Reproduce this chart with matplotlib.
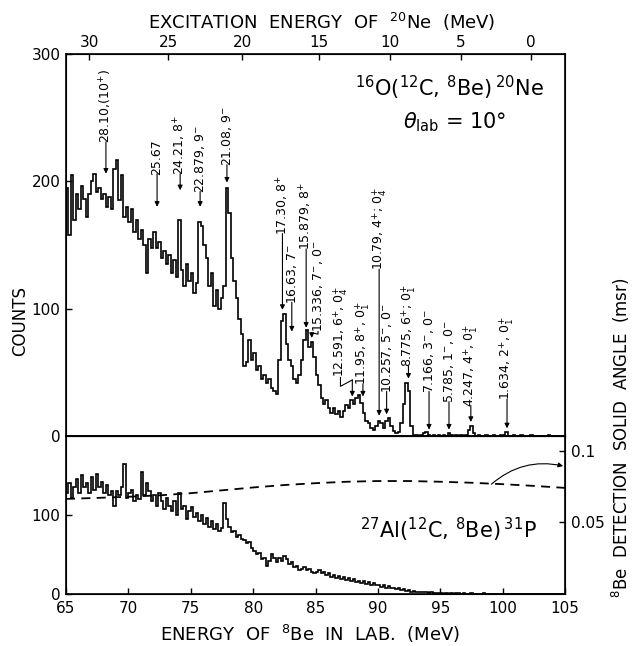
import numpy as np
import matplotlib.pyplot as plt

plt.rcParams['font.family'] = ['DejaVu Sans']
plt.rcParams['mathtext.fontset'] = 'dejavusans'

# channel edges of both spectra (lab energy of 8Be, MeV), 0.2 MeV channels
e_lo, e_hi, e_step = 65.0, 105.0, 0.2

# 16O(12C,8Be)20Ne counts, one row per 2 MeV
ne_counts = [
    195, 158, 205, 170, 190, 178, 196, 186, 172, 190,
    200, 206, 192, 195, 186, 190, 180, 188, 178, 210,
    217, 185, 205, 172, 180, 168, 178, 160, 170, 155,
    162, 150, 128, 155, 148, 160, 148, 152, 140, 145,
    135, 142, 128, 138, 125, 170, 130, 118, 135, 122,
    128, 112, 120, 168, 165, 150, 140, 118, 128, 102,
    115, 100, 108, 118, 195, 175, 140, 122, 108, 92,
    80, 55, 58, 75, 60, 65, 52, 55, 45, 48,
    42, 45, 38, 35, 33, 60, 90, 96, 72, 60,
    55, 45, 42, 48, 60, 75, 83, 70, 74, 62,
    48, 40, 30, 25, 28, 22, 18, 22, 17, 20,
    15, 20, 24, 22, 28, 25, 30, 32, 26, 18,
    12, 10, 6, 5, 8, 12, 10, 6, 12, 14,
    8, 4, 2, 3, 10, 25, 42, 35, 8, 1,
    1, 0, 1, 2, 3, 1, 0, 1, 0, 1,
    0, 1, 0, 2, 1, 0, 1, 0, 1, 0,
    1, 5, 8, 2, 0, 1, 0, 0, 1, 0,
    0, 1, 0, 0, 1, 1, 3, 0, 0, 1,
    0, 0, 1, 0, 0, 0, 1, 0, 0, 0,
    0, 0, 0, 1, 0, 0, 0, 0, 0, 0,
]

# 27Al(12C,8Be)31P counts
al_counts = [
    128, 140, 122, 135, 145, 128, 150, 135, 140, 128,
    148, 132, 152, 135, 142, 128, 138, 125, 130, 112,
    130, 125, 135, 165, 122, 128, 132, 118, 125, 120,
    155, 125, 140, 130, 118, 125, 112, 128, 118, 108,
    122, 112, 105, 118, 100, 128, 108, 112, 95, 105,
    110, 98, 102, 92, 100, 88, 96, 85, 92, 82,
    88, 80, 84, 115, 95, 85, 78, 80, 72, 75,
    70, 68, 64, 66, 58, 55, 50, 52, 44, 46,
    36, 42, 50, 45, 40, 46, 42, 48, 44, 38,
    40, 34, 36, 30, 32, 34, 30, 32, 28, 26,
    28, 30, 26, 28, 24, 26, 22, 24, 20, 23,
    19, 21, 18, 20, 17, 19, 15, 17, 14, 16,
    13, 15, 12, 14, 11, 12, 9, 11, 8, 10,
    7, 8, 6, 7, 5, 6, 4, 5, 3, 4,
    3, 2, 3, 2, 2, 1, 2, 1, 1, 1,
    1, 0, 1, 0, 1, 0, 1, 1, 0, 1,
    0, 0, 1, 0, 0, 0, 0, 1, 0, 0,
    0, 0, 0, 0, 0, 0, 0, 0, 0, 0,
    0, 0, 0, 0, 0, 0, 0, 0, 0, 0,
    0, 0, 0, 0, 0, 0, 0, 0, 0, 0,
]

# 8Be detection solid angle (msr) vs lab energy
sa_energy = [65, 67.5, 70, 72.5, 75, 77.5, 80, 82.5, 85, 87.5,
             90, 92.5, 95, 97.5, 100, 102.5, 105]
sa_msr = [0.0665, 0.0672, 0.068, 0.069, 0.0705, 0.0725, 0.0745, 0.0762, 0.0775, 0.0785,
          0.079, 0.079, 0.0785, 0.0778, 0.0768, 0.0756, 0.0742]

# excitation energy scale of 20Ne (top axis) and its lab energy positions
ex_ticks = [30, 25, 20, 15, 10, 5, 0]
ex_tick_lab = [66.86, 73.19, 79.14, 85.24, 90.94, 96.65, 102.24]

# state labels: text, lab energy of arrow, arrow tip (counts), text start (counts)
state_text = [
    "28.10,(10$^{+}$)", "25.67", "24.21, 8$^{+}$", "22.879, 9$^{-}$", "21.08, 9$^{-}$",
    "17.30, 8$^{+}$", "16.63, 7$^{-}$", "15.879, 8$^{+}$",
    "11.95, 8$^{+}$, 0$^{+}_{1}$", "10.79, 4$^{+}$; 0$^{+}_{4}$", "10.257, 5$^{-}$, 0$^{-}$",
    "8.775, 6$^{+}$; 0$^{+}_{1}$", "7.166, 3$^{-}$, 0$^{-}$", "5.785, 1$^{-}$, 0$^{-}$",
    "4.247, 4$^{+}$, 0$^{+}_{1}$", "1.634, 2$^{+}$, 0$^{+}_{1}$",
]
state_x = [68.2, 72.3, 74.15, 75.75, 77.9, 82.35, 83.1, 84.25,
           88.8, 90.1, 90.7, 92.45, 94.1, 95.7, 97.45, 100.35]
state_tip = [206, 180, 193, 180, 199, 99, 82, 85,
             31, 16, 17, 45, 5, 5, 11, 6]
state_start = [230, 205, 205, 191, 212, 158, 104, 146,
               40, 130, 34, 54, 34, 26, 23, 28]

# two labels joined to their peak by a kinked line: text, text x, text start, kink points, tip
kink_text = ["15.336, 7$^{-}$, 0$^{-}$", "12.591, 6$^{+}$, 0$^{+}_{4}$"]
kink_x = [85.2, 87.0]
kink_start = [82, 46]
kink_path_x = [[85.2, 85.2, 84.7], [87.0, 87.0, 87.95]]
kink_path_y = [[82, 80, 81], [46, 39, 44]]
kink_tip = [77, 31]

fig = plt.figure(figsize=(6.34, 6.46), dpi=100)
ax = fig.add_axes([0.1041, 0.3251, 0.7871, 0.5913])
axl = fig.add_axes([0.1041, 0.0805, 0.7871, 0.2446])

edges = np.arange(e_lo, e_hi + e_step / 2, e_step)
ax.stairs(ne_counts, edges, color='k', lw=1.2, baseline=None)
axl.stairs(al_counts, edges, color='k', lw=1.2, baseline=None)

tick_kw = dict(direction='in', length=4, width=1, labelsize=11, color='k')

# upper panel
ax.set_xlim(65, 105)
ax.set_ylim(0, 300)
ax.set_yticks([0, 100, 200, 300])
ax.set_xticks([])
ax.tick_params(axis='y', pad=4, **tick_kw)
for s in ax.spines.values():
    s.set_linewidth(1.2)

axt = ax.twiny()
axt.set_xlim(65, 105)
axt.set_xticks(ex_tick_lab)
axt.set_xticklabels([str(v) for v in ex_ticks])
axt.tick_params(axis='x', pad=3, **tick_kw)

for txt, x, tip, start in zip(state_text, state_x, state_tip, state_start):
    ax.annotate('', xy=(x, tip), xytext=(x, start + 1),
                arrowprops=dict(arrowstyle='-|>', lw=0.8, color='k',
                                mutation_scale=7, shrinkA=0, shrinkB=0))
    ax.text(x, start, txt, rotation=90, ha='center', va='bottom', fontsize=9)

for txt, x, start, px, py, tip in zip(kink_text, kink_x, kink_start,
                                      kink_path_x, kink_path_y, kink_tip):
    ax.plot(px, py, color='k', lw=0.8)
    ax.annotate('', xy=(px[-1], tip), xytext=(px[-1], py[-1]),
                arrowprops=dict(arrowstyle='-|>', lw=0.8, color='k',
                                mutation_scale=7, shrinkA=0, shrinkB=0))
    ax.text(x, start, txt, rotation=90, ha='center', va='bottom', fontsize=9)

ax.text(0.958, 0.911, r'$^{16}$O($^{12}$C, $^{8}$Be)$\,^{20}$Ne', transform=ax.transAxes,
        ha='right', va='center', fontsize=15)
ax.text(0.78, 0.822, r'$\theta_{\rm lab}$ = 10°', transform=ax.transAxes,
        ha='center', va='center', fontsize=15)

# lower panel
axl.set_xlim(65, 105)
axl.set_ylim(0, 200)
axl.set_yticks([0, 100])
axl.set_xticks(np.arange(65, 106, 5))
axl.tick_params(axis='y', pad=4, **tick_kw)
axl.tick_params(axis='x', pad=5, **tick_kw)
for s in axl.spines.values():
    s.set_linewidth(1.2)

axr = axl.twinx()
axr.set_ylim(0, 0.1105)
axr.set_yticks([0.05, 0.1])
axr.set_yticklabels(['0.05', '0.1'])
axr.tick_params(axis='y', pad=4, **tick_kw)
axr.plot(sa_energy, sa_msr, color='k', lw=1.3, dashes=(5, 3.5))
axr.annotate('', xy=(104.85, 0.0895), xytext=(99.1, 0.0768),
             arrowprops=dict(arrowstyle='-|>', lw=0.8, color='k', mutation_scale=7,
                             connectionstyle='arc3,rad=-0.25', shrinkA=0, shrinkB=0))

axl.text(0.944, 0.405, r'$^{27}$Al($^{12}$C, $^{8}$Be)$\,^{31}$P', transform=axl.transAxes,
         ha='right', va='center', fontsize=15)

# axis titles
fig.text(322 / 634, 1 - 22 / 646, r'EXCITATION  ENERGY  OF  $^{20}$Ne  (MeV)',
         ha='center', va='center', fontsize=13)
fig.text(310 / 634, 1 - 641 / 646, r'ENERGY  OF  $^{8}$Be  IN  LAB.  (MeV)',
         ha='center', va='baseline', fontsize=13)
fig.text(20 / 634, 1 - 321 / 646, 'COUNTS', rotation=90,
         ha='center', va='center', fontsize=12)
fig.text(621 / 634, 1 - 598 / 646, r'$^{8}$Be  DETECTION  SOLID  ANGLE  (msr)', rotation=90,
         ha='center', va='bottom', fontsize=12)

fig.savefig('out.png', dpi=100)
